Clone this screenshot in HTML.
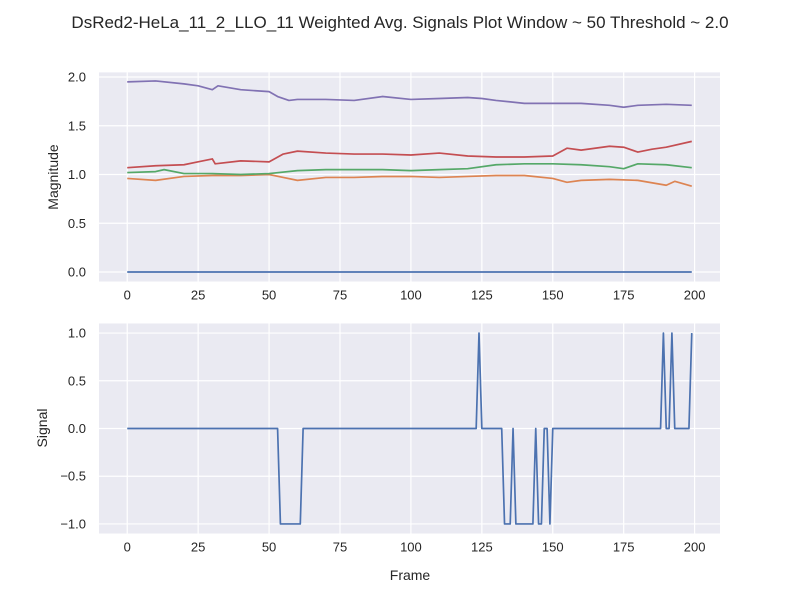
<!DOCTYPE html>
<html><head><meta charset="utf-8"><style>
body{margin:0;background:#fff;font-family:"Liberation Sans","DejaVu Sans",sans-serif}
svg text{font-family:"Liberation Sans","DejaVu Sans",sans-serif;fill:#262626}
</style></head><body>
<svg id="c" width="800" height="600" xmlns="http://www.w3.org/2000/svg">
<text x="400" y="28" font-size="17" text-anchor="middle">DsRed2-HeLa_11_2_LLO_11 Weighted Avg. Signals Plot Window ~ 50 Threshold ~ 2.0</text>
</svg>
<script>
const xTicks=[0,25,50,75,100,125,150,175,200];
const topYTicks=[0.0,0.5,1.0,1.5,2.0];
const botYTicks=[-1.0,-0.5,0.0,0.5,1.0];
const frames=[0,10,20,25,30,32,40,50,53,57,60,70,80,90,100,110,120,125,130,140,150,160,170,175,180,190,199];
const purple=[1.95,1.96,1.93,1.91,1.87,1.91,1.87,1.85,1.80,1.76,1.77,1.77,1.76,1.80,1.77,1.78,1.79,1.78,1.76,1.73,1.73,1.73,1.71,1.69,1.71,1.72,1.71];
const redF=[0,10,20,25,30,31,40,50,55,60,70,80,90,100,110,120,130,140,150,155,160,170,175,180,185,190,199];
const red=[1.07,1.09,1.10,1.13,1.16,1.11,1.14,1.13,1.21,1.24,1.22,1.21,1.21,1.20,1.22,1.19,1.18,1.18,1.19,1.27,1.25,1.29,1.28,1.23,1.26,1.28,1.34];
const greenF=[0,10,13,20,30,40,50,60,70,80,90,100,110,120,130,140,150,160,170,175,180,190,199];
const green=[1.02,1.03,1.05,1.01,1.01,1.00,1.01,1.04,1.05,1.05,1.05,1.04,1.05,1.06,1.10,1.11,1.11,1.10,1.08,1.06,1.11,1.10,1.07];
const orangeF=[0,10,20,30,40,50,55,60,70,80,90,100,110,120,130,140,150,155,160,170,180,190,193,199];
const orange=[0.96,0.94,0.98,0.99,0.99,1.00,0.97,0.94,0.97,0.97,0.98,0.98,0.97,0.98,0.99,0.99,0.96,0.92,0.94,0.95,0.94,0.89,0.93,0.88];
const blueF=[0,199];
const blue=[0,0];
const sigF=[0,53,54,61,62,123,124,125,132,133,134,135,136,137,143,144,145,146,147,148,149,150,188,189,190,191,192,193,198,199];
const sig=[0,0,-1,-1,0,0,1,0,0,-1,-1,-1,0,-1,-1,0,-1,-1,0,0,-1,0,0,1,0,0,1,0,0,1];

const svg=document.getElementById('c');
const NS='http://www.w3.org/2000/svg';
function mk(t,a,p){const e=document.createElementNS(NS,t);for(const k in a)e.setAttribute(k,a[k]);(p||svg).appendChild(e);return e;}
const X0=99,X1=720,XMIN=-9.95,XMAX=208.95;
function xs(v){return X0+(v-XMIN)/(XMAX-XMIN)*(X1-X0);}
function panel(name,top,bot,ymin,ymax,yt){
  const ys=v=>bot-(v-ymin)/(ymax-ymin)*(bot-top);
  const g=mk('g',{});
  
  
  const bg=mk('rect',{x:X0,y:top,width:X1-X0,height:bot-top,fill:'#eaeaf2'},g);
  
  
  xTicks.forEach(t=>{
    const l=mk('line',{x1:xs(t),x2:xs(t),y1:top,y2:bot,stroke:'#fff','stroke-width':1.2},g);
    
    
    const tx=mk('text',{x:xs(t),y:bot+18,'font-size':13,'text-anchor':'middle'},g);
    
    
    tx.textContent=t;
  });
  yt.forEach(t=>{
    const l=mk('line',{x1:X0,x2:X1,y1:ys(t),y2:ys(t),stroke:'#fff','stroke-width':1.2},g);
    
    
    const tx=mk('text',{x:X0-13,y:ys(t)+4.5,'font-size':13,'text-anchor':'end'},g);
    
    
    tx.textContent=t.toFixed(1).replace('-','\u2212');
  });
  return ys;
}
function line(name,fx,vals,ys,color){
  const p=mk('polyline',{points:fx.map((f,i)=>xs(f)+','+ys(vals[i])).join(' '),fill:'none',stroke:color,'stroke-width':1.7,'stroke-linejoin':'round'});
  
  
}
const ysT=panel('magnitude',72.4,281.5,-0.0975,2.0475,topYTicks);
line('series-blue',blueF,blue,ysT,'#4c72b0');
line('series-orange',orangeF,orange,ysT,'#dd8452');
line('series-green',greenF,green,ysT,'#55a868');
line('series-red',redF,red,ysT,'#c44e52');
line('series-purple',frames,purple,ysT,'#8172b3');
const ysB=panel('signal',323.5,533.5,-1.1,1.1,botYTicks);
line('signal-line',sigF,sig,ysB,'#4c72b0');
let t=mk('text',{x:0,y:0,'font-size':14,'text-anchor':'middle',transform:'translate(58,177) rotate(-90)'});


t.textContent='Magnitude';
t=mk('text',{x:0,y:0,'font-size':14,'text-anchor':'middle',transform:'translate(47,428) rotate(-90)'});


t.textContent='Signal';
t=mk('text',{x:410,y:580,'font-size':14,'text-anchor':'middle'});


t.textContent='Frame';
</script>
</body></html>
